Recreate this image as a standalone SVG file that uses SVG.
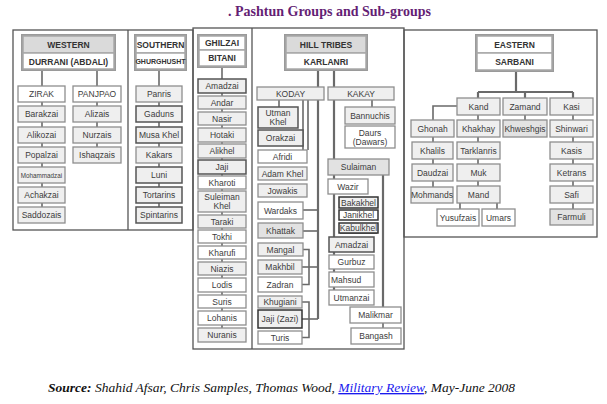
<svg xmlns="http://www.w3.org/2000/svg" width="607" height="404" viewBox="0 0 607 404">
<style>
.bg{fill:#fff}
.panel{fill:none;stroke:#555;stroke-width:1.3}
.hf{fill:none;stroke:#9a9a9a;stroke-width:2}
.hw{fill:#fff;stroke:#a8a8a8;stroke-width:1.5}
.hg{fill:#dadada;stroke:#a8a8a8;stroke-width:1.5}
.b{fill:#efefef;stroke:#8e8e8e;stroke-width:1.3}
.w{fill:#fff;stroke:#8e8e8e;stroke-width:1.3}
.g{fill:#e2e2e2;stroke:#8e8e8e;stroke-width:1.3}
.d{stroke:#555;stroke-width:1.5}
.k{stroke:#333;stroke-width:1.5}
.c{fill:none;stroke:#6a6a6a;stroke-width:1.6}
.ct{fill:none;stroke:#6a6a6a;stroke-width:2.2}
text{font-family:"Liberation Sans",Arial,sans-serif}
.t{font-size:8.5px;fill:#3c3c3c;text-anchor:middle;dominant-baseline:central}
.h{font-size:8.5px;font-weight:bold;fill:#333;text-anchor:middle;dominant-baseline:central}
.title{font-family:"Liberation Serif","Times New Roman",serif;font-size:14px;font-weight:bold;fill:#641e74}
.src{font-family:"Liberation Serif","Times New Roman",serif;font-size:13.5px;font-style:italic;fill:#111}
</style>
<rect class="bg" x="0" y="0" width="607" height="404"/>
<text class="title" x="228" y="16">. Pashtun Groups and Sub-groups</text>

<g id="panels">
<rect class="panel" x="13" y="30" width="180" height="200"/>
<line class="panel" x1="128" y1="30" x2="128" y2="230"/>
<rect class="panel" x="193" y="28" width="211" height="321"/>
<line class="panel" x1="252" y1="28" x2="252" y2="349"/>
<rect class="panel" x="404" y="30" width="193" height="207"/>
</g>

<g id="connectors">
<line class="c" x1="42" y1="70" x2="42" y2="207"/>
<line class="c" x1="97" y1="70" x2="97" y2="147"/>
<line class="c" x1="159" y1="70" x2="159" y2="207"/>
<line class="c" x1="222" y1="67" x2="222" y2="328"/>
<line class="ct" x1="318" y1="70" x2="318" y2="319"/>
<line class="ct" x1="334" y1="70" x2="334" y2="290"/>
<line class="c" x1="279" y1="100" x2="279" y2="107"/>
<line class="c" x1="303" y1="100" x2="303" y2="150"/>
<line class="c" x1="308" y1="100" x2="308" y2="150"/>
<line class="c" x1="303" y1="210" x2="318" y2="210"/>
<line class="c" x1="303" y1="231" x2="318" y2="231"/>
<line class="c" x1="302" y1="267" x2="318" y2="267"/>
<line class="c" x1="302" y1="319" x2="318" y2="319"/>
<path class="c" d="M303,249.5 H309 V284.5 H302"/>
<path class="c" d="M302,302 H309 V337.5 H302"/>
<line class="c" x1="372" y1="100" x2="372" y2="107"/>
<line class="ct" x1="383" y1="175" x2="383" y2="307"/>
<line class="c" x1="383" y1="323" x2="383" y2="328"/>
<path class="ct" d="M516,71 V92 M478,92 H573 M478,92 V98 M525,92 V98 M573,92 V98"/>
<path class="c" d="M457,106 H433 V120"/>
<line class="c" x1="433" y1="137" x2="433" y2="187"/>
<line class="c" x1="478" y1="115" x2="478" y2="186"/>
<line class="c" x1="525" y1="115" x2="525" y2="120"/>
<line class="c" x1="573" y1="115" x2="573" y2="209"/>
<line class="c" x1="460" y1="203" x2="460" y2="209"/>
<line class="c" x1="497" y1="203" x2="497" y2="209"/>
</g>

<g id="western">
<rect class="hf" x="22" y="35" width="93" height="35"/>
<rect class="hg" x="23" y="36" width="91" height="17"/>
<rect class="hw" x="23" y="53" width="91" height="16"/>
<text class="h" x="68.5" y="44.5">WESTERN</text>
<text class="h" x="68.5" y="61.5">DURRANI (ABDALI)</text>
</g>
<g id="zirak"><rect class="w" x="18" y="86" width="47" height="16"/><text class="t" x="41.5" y="94">ZIRAK</text></g>
<g id="panjpao"><rect class="w" x="73" y="86" width="48" height="16"/><text class="t" x="97" y="94">PANJPAO</text></g>
<g id="barakzai"><rect class="b" x="18" y="106" width="47" height="16"/><text class="t" x="41.5" y="114">Barakzai</text></g>
<g id="alikozai"><rect class="b" x="18" y="127" width="47" height="16"/><text class="t" x="41.5" y="135">Alikozai</text></g>
<g id="popalzai"><rect class="b" x="18" y="147" width="47" height="16"/><text class="t" x="41.5" y="155">Popalzai</text></g>
<g id="mohammadzai"><rect class="b" x="18" y="167" width="47" height="16"/><text class="t" x="41.5" y="175" style="font-size:6.3px">Mohammadzai</text></g>
<g id="achakzai"><rect class="b" x="18" y="187" width="47" height="16"/><text class="t" x="41.5" y="195">Achakzai</text></g>
<g id="saddozais"><rect class="b" x="18" y="207" width="47" height="16"/><text class="t" x="41.5" y="215">Saddozais</text></g>
<g id="alizais"><rect class="b" x="73" y="106" width="48" height="16"/><text class="t" x="97" y="114">Alizais</text></g>
<g id="nurzais"><rect class="b" x="73" y="127" width="48" height="16"/><text class="t" x="97" y="135">Nurzais</text></g>
<g id="ishaqzais"><rect class="b" x="73" y="147" width="48" height="16"/><text class="t" x="97" y="155">Ishaqzais</text></g>

<g id="southern">
<rect class="hf" x="135" y="35" width="51" height="35"/>
<rect class="hw" x="136" y="36" width="49" height="17"/>
<rect class="hw" x="136" y="53" width="49" height="16"/>
<text class="h" x="160.5" y="44.5">SOUTHERN</text>
<text class="h" x="160.5" y="61.5" style="font-size:7px">GHURGHUSHT</text>
</g>
<g id="panris"><rect class="b" x="136" y="86" width="46" height="16"/><text class="t" x="159" y="94">Panris</text></g>
<g id="gaduns"><rect class="b d" x="136" y="106" width="46" height="16"/><text class="t" x="159" y="114">Gaduns</text></g>
<g id="musakhel"><rect class="b d" x="136" y="127" width="46" height="16"/><text class="t" x="159" y="135">Musa Khel</text></g>
<g id="kakars"><rect class="b" x="136" y="147" width="46" height="16"/><text class="t" x="159" y="155">Kakars</text></g>
<g id="luni"><rect class="b d" x="136" y="167" width="46" height="16"/><text class="t" x="159" y="175">Luni</text></g>
<g id="tortarins"><rect class="b d" x="136" y="187" width="46" height="16"/><text class="t" x="159" y="195">Tortarins</text></g>
<g id="spintarins"><rect class="b d" x="136" y="207" width="46" height="16"/><text class="t" x="159" y="215">Spintarins</text></g>

<g id="ghilzai">
<rect class="hf" x="198" y="35" width="48" height="32"/>
<rect class="hw" x="199" y="36" width="46" height="14"/>
<rect class="hw" x="199" y="50" width="46" height="16"/>
<text class="h" x="222" y="43">GHILZAI</text>
<text class="h" x="222" y="58">BITANI</text>
</g>
<g id="g-amadzai"><rect class="b d" x="198" y="79" width="48" height="14"/><text class="t" x="222" y="86">Amadzai</text></g>
<g id="andar"><rect class="b" x="198" y="96" width="48" height="13"/><text class="t" x="222" y="102.5">Andar</text></g>
<g id="nasir"><rect class="b" x="198" y="112" width="48" height="13"/><text class="t" x="222" y="118.5">Nasir</text></g>
<g id="hotaki"><rect class="b" x="198" y="128" width="48" height="14"/><text class="t" x="222" y="135">Hotaki</text></g>
<g id="alikhel"><rect class="b" x="198" y="144" width="48" height="14"/><text class="t" x="222" y="151">Alikhel</text></g>
<g id="jaji"><rect class="b d" x="198" y="160" width="48" height="14"/><text class="t" x="222" y="167">Jaji</text></g>
<g id="kharoti"><rect class="w" x="198" y="176" width="48" height="13"/><text class="t" x="222" y="182.5">Kharoti</text></g>
<g id="suleimankhel"><rect class="b" x="198" y="191" width="48" height="21"/><text class="t" x="222" y="197">Suleiman</text><text class="t" x="222" y="206">Khel</text></g>
<g id="taraki"><rect class="b" x="198" y="215" width="48" height="13"/><text class="t" x="222" y="221.5">Taraki</text></g>
<g id="tokhi"><rect class="w" x="198" y="230" width="48" height="13"/><text class="t" x="222" y="236.5">Tokhi</text></g>
<g id="kharufi"><rect class="w" x="198" y="246" width="48" height="13"/><text class="t" x="222" y="252.5">Kharufi</text></g>
<g id="niazis"><rect class="b" x="198" y="262" width="48" height="13"/><text class="t" x="222" y="268.5">Niazis</text></g>
<g id="lodis"><rect class="w" x="198" y="278" width="48" height="14"/><text class="t" x="222" y="285">Lodis</text></g>
<g id="suris"><rect class="w" x="198" y="295" width="48" height="13"/><text class="t" x="222" y="301.5">Suris</text></g>
<g id="lohanis"><rect class="w" x="198" y="311" width="48" height="14"/><text class="t" x="222" y="318">Lohanis</text></g>
<g id="nuranis"><rect class="b" x="198" y="328" width="48" height="14"/><text class="t" x="222" y="335">Nuranis</text></g>

<g id="hilltribes">
<rect class="hf" x="285" y="35" width="82" height="35"/>
<rect class="hg" x="286" y="36" width="80" height="17"/>
<rect class="hw" x="286" y="53" width="80" height="16"/>
<text class="h" x="326" y="44.5">HILL TRIBES</text>
<text class="h" x="326" y="61.5">KARLANRI</text>
</g>
<g id="koday"><rect class="b" x="257" y="87" width="67" height="13"/><text class="t" x="290.5" y="93.5">KODAY</text></g>
<g id="kakay"><rect class="b" x="328" y="87" width="66" height="13"/><text class="t" x="361" y="93.5">KAKAY</text></g>
<g id="utmankhel"><rect class="b d" x="258" y="107" width="40" height="21"/><text class="t" x="278" y="113">Utman</text><text class="t" x="278" y="122">Khel</text></g>
<g id="orakzai"><rect class="b d" x="258" y="130" width="45" height="16"/><text class="t" x="280.5" y="138">Orakzai</text></g>
<g id="afridi"><rect class="w" x="258" y="150" width="49" height="13"/><text class="t" x="282.5" y="156.5">Afridi</text></g>
<g id="adamkhel"><rect class="b" x="258" y="167" width="49" height="13"/><text class="t" x="282.5" y="173.5">Adam Khel</text></g>
<g id="jowakis"><rect class="b" x="258" y="184" width="49" height="13"/><text class="t" x="282.5" y="190.5">Jowakis</text></g>
<g id="wardaks"><rect class="w" x="258" y="202" width="45" height="17"/><text class="t" x="280.5" y="210.5">Wardaks</text></g>
<g id="khattak"><rect class="g" x="258" y="223" width="45" height="15"/><text class="t" x="280.5" y="230.5">Khattak</text></g>
<g id="mangal"><rect class="b" x="258" y="243" width="45" height="13"/><text class="t" x="280.5" y="249.5">Mangal</text></g>
<g id="makhbil"><rect class="b" x="258" y="260" width="44" height="14"/><text class="t" x="280" y="267">Makhbil</text></g>
<g id="zadran"><rect class="w" x="258" y="277" width="44" height="15"/><text class="t" x="280" y="284.5">Zadran</text></g>
<g id="khugiani"><rect class="b" x="258" y="296" width="44" height="12"/><text class="t" x="280" y="302">Khugiani</text></g>
<g id="jajizazi"><rect class="b k" x="258" y="310" width="44" height="18"/><text class="t" x="280" y="319">Jaji (Zazi)</text></g>
<g id="turis"><rect class="w" x="258" y="331" width="44" height="13"/><text class="t" x="280" y="337.5">Turis</text></g>
<g id="bannuchis"><rect class="b" x="345" y="107" width="50" height="17"/><text class="t" x="370" y="115.5">Bannuchis</text></g>
<g id="daurs"><rect class="w" x="345" y="126" width="50" height="22"/><text class="t" x="370" y="132.5">Daurs</text><text class="t" x="370" y="141.5">(Dawars)</text></g>
<g id="sulaiman"><rect class="g" x="328" y="159" width="61" height="16"/><text class="t" x="358.5" y="167">Sulaiman</text></g>
<g id="wazir"><rect class="w" x="328" y="179" width="40" height="15"/><text class="t" x="348" y="186.5">Wazir</text></g>
<g id="bakakhel"><rect class="b k" x="339" y="197" width="39" height="11"/><text class="t" x="358.5" y="202.5">Bakakhel</text></g>
<g id="janikhel"><rect class="w k" x="339" y="210" width="39" height="10"/><text class="t" x="358.5" y="215">Janikhel</text></g>
<g id="kabulkhel"><rect class="b k" x="339" y="223" width="39" height="10"/><text class="t" x="358.5" y="228" style="text-decoration:underline">Kabulkhel</text></g>
<g id="h-amadzai"><rect class="b d" x="329" y="237" width="45" height="15"/><text class="t" x="351.5" y="244.5">Amadzai</text></g>
<g id="gurbuz"><rect class="w" x="329" y="255" width="45" height="14"/><text class="t" x="351.5" y="262">Gurbuz</text></g>
<g id="mahsud"><rect class="w" x="329" y="272" width="45" height="15"/><text class="t" x="331" y="279.5" style="text-anchor:start">Mahsud</text></g>
<g id="utmanzai"><rect class="w" x="329" y="290" width="45" height="15"/><text class="t" x="351.5" y="297.5">Utmanzai</text></g>
<g id="malikmar"><rect class="w" x="350" y="307" width="51" height="16"/><text class="t" x="375.5" y="315">Malikmar</text></g>
<g id="bangash"><rect class="w" x="351" y="328" width="50" height="16"/><text class="t" x="376" y="336">Bangash</text></g>

<g id="eastern">
<rect class="hf" x="476" y="35" width="77" height="36"/>
<rect class="hw" x="477" y="36" width="75" height="17"/>
<rect class="hw" x="477" y="53" width="75" height="17"/>
<text class="h" x="514.5" y="44.5">EASTERN</text>
<text class="h" x="514.5" y="61.5">SARBANI</text>
</g>
<g id="kand"><rect class="b" x="457" y="98" width="43" height="17"/><text class="t" x="478.5" y="106.5">Kand</text></g>
<g id="zamand"><rect class="b" x="503" y="98" width="44" height="17"/><text class="t" x="525" y="106.5">Zamand</text></g>
<g id="kasi"><rect class="b" x="550" y="98" width="43" height="17"/><text class="t" x="571.5" y="106.5">Kasi</text></g>
<g id="ghonah"><rect class="b" x="411" y="120" width="43" height="17"/><text class="t" x="432.5" y="128.5">Ghonah</text></g>
<g id="khakhay"><rect class="b" x="457" y="120" width="43" height="17"/><text class="t" x="478.5" y="128.5">Khakhay</text></g>
<g id="khweshgis"><rect class="g" x="503" y="120" width="44" height="17"/><text class="t" x="525" y="128.5">Khweshgis</text></g>
<g id="shinwari"><rect class="b" x="550" y="120" width="43" height="17"/><text class="t" x="571.5" y="128.5">Shinwari</text></g>
<g id="khalils"><rect class="b" x="412" y="142" width="41" height="17"/><text class="t" x="432.5" y="150.5">Khalils</text></g>
<g id="tarklanris"><rect class="b" x="457" y="142" width="43" height="17"/><text class="t" x="478.5" y="150.5">Tarklanris</text></g>
<g id="kasis"><rect class="b" x="550" y="142" width="43" height="17"/><text class="t" x="571.5" y="150.5">Kasis</text></g>
<g id="daudzai"><rect class="b" x="412" y="164" width="41" height="17"/><text class="t" x="432.5" y="172.5">Daudzai</text></g>
<g id="muk"><rect class="b" x="457" y="164" width="43" height="17"/><text class="t" x="478.5" y="172.5">Muk</text></g>
<g id="ketrans"><rect class="b" x="550" y="164" width="43" height="17"/><text class="t" x="571.5" y="172.5">Ketrans</text></g>
<g id="mohmands"><rect class="b" x="411" y="187" width="42" height="16"/><text class="t" x="432" y="195">Mohmands</text></g>
<g id="mand"><rect class="b" x="457" y="186" width="43" height="17"/><text class="t" x="478.5" y="194.5">Mand</text></g>
<g id="safi"><rect class="b" x="550" y="186" width="43" height="17"/><text class="t" x="571.5" y="194.5">Safi</text></g>
<g id="yusufzais"><rect class="w" x="437" y="209" width="42" height="17"/><text class="t" x="458" y="217.5">Yusufzais</text></g>
<g id="umars"><rect class="w" x="482" y="209" width="33" height="17"/><text class="t" x="498.5" y="217.5">Umars</text></g>
<g id="farmuli"><rect class="g" x="550" y="209" width="43" height="16"/><text class="t" x="571.5" y="217">Farmuli</text></g>

<text class="src" x="48" y="392"><tspan font-weight="bold">Source:</tspan> Shahid Afsar, Chris Samples, Thomas Wood, <tspan fill="#1a1aee" text-decoration="underline">Military Review</tspan>, May-June 2008</text>
</svg>
